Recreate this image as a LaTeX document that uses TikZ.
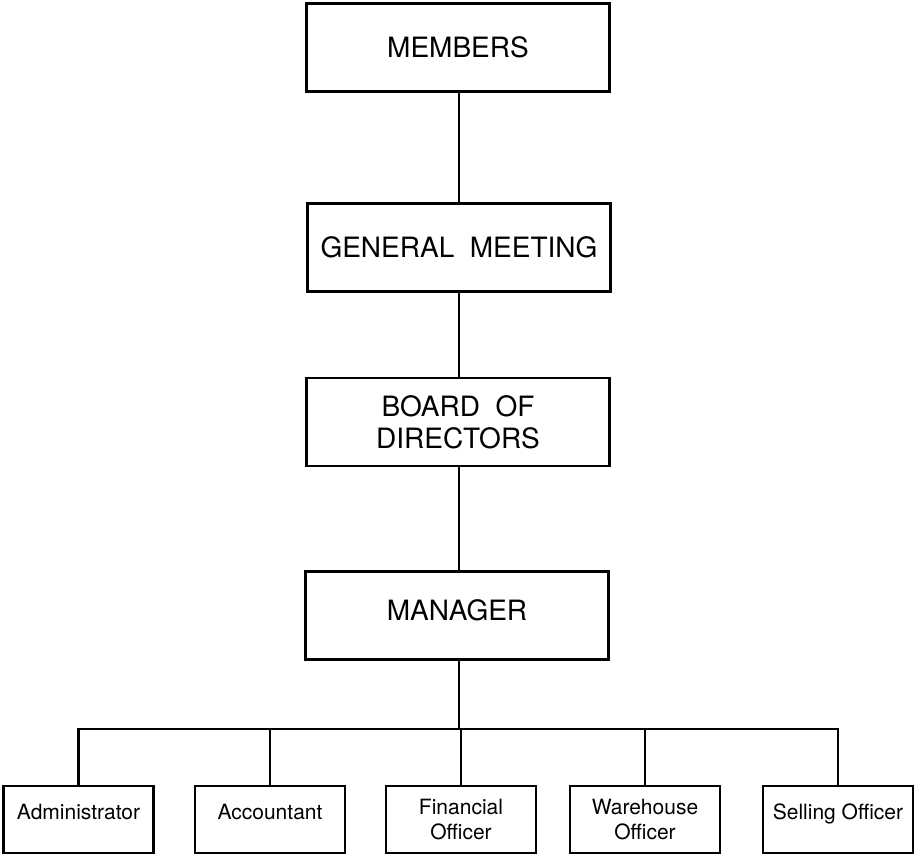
\documentclass[tikz,border=0pt]{standalone}
\usepackage{fontspec}
\setmainfont{TeX Gyre Heros}
\begin{document}
\begin{tikzpicture}[x=1pt,y=-1pt,
  topbox/.style={draw, line width=2.3pt, minimum width=303pt, minimum height=88pt, inner sep=0pt, align=center, font=\fontsize{28}{32}\selectfont},
  lowbox/.style={draw, line width=2.3pt, minimum width=150pt, minimum height=67pt, inner sep=0pt, align=center, font=\fontsize{21}{25}\selectfont},
  oneline/.style={text height=10pt, text depth=10pt},
  link/.style={line width=2.3pt}]
\useasboundingbox (0,0) rectangle (915,854);
\node[topbox] (mem) at (458,47.5) {MEMBERS};
\node[topbox] (gm) at (459,247.5) {GENERAL\ \ MEETING};
\node[topbox] (bod) at (458,422) {BOARD\ \ OF\\DIRECTORS};
\node[topbox, text height=20pt, text depth=10pt] (man) at (457,615.5) {MANAGER};
\node[lowbox, oneline] (adm) at (78.5,819.5) {Administrator};
\node[lowbox, oneline] (acc) at (270,819.5) {Accountant};
\node[lowbox] (fin) at (461,819.5) {Financial\\Officer};
\node[lowbox] (war) at (645,819.5) {Warehouse\\Officer};
\node[lowbox, oneline] (sel) at (838,819.5) {Selling Officer};
\coordinate (bus) at (459,729);
\draw[link] (mem.south -| 459,0) -- (gm.north -| 459,0);
\draw[link] (gm.south -| 459,0) -- (bod.north -| 459,0);
\draw[link] (bod.south -| 459,0) -- (man.north -| 459,0);
\draw[link] (man.south -| bus) -- (bus);
\draw[link] (adm.north) -- (adm.north |- bus) -| (sel.north);
\draw[link] (acc.north) -- (acc.north |- bus);
\draw[link] (fin.north) -- (fin.north |- bus);
\draw[link] (war.north) -- (war.north |- bus);
\end{tikzpicture}
\end{document}
